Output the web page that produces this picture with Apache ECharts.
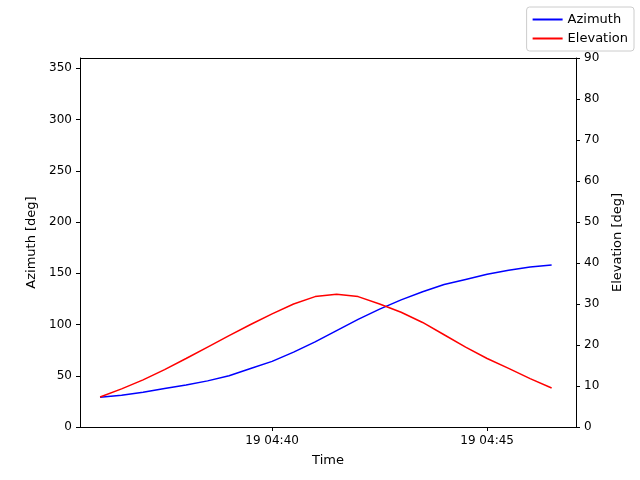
<!DOCTYPE html>
<html><head><meta charset="utf-8">
<script src="https://cdn.jsdelivr.net/npm/echarts@6/dist/echarts.min.js"></script>
<style>body{margin:0}#c{width:640px;height:480px}</style></head>
<body><div id="c"></div>
<script>
// seconds relative to 19 04:40:00
const times = [-240,-210,-180,-150,-120,-90,-60,-30,0,30,60,90,120,150,180,210,240,270,300,330,360,390];
const azimuth = [29,31,34,37.5,41,45,50,57,64,73,83,94,105,115,124,132,139,144,149,153,156,158];
const elevation = [7.3,9.3,11.5,14,16.7,19.5,22.3,25,27.6,30,31.8,32.4,31.8,30,28,25.5,22.5,19.5,16.7,14.3,11.8,9.5];
const tickVals = [0,300];
const tickLabels = {0:'19 04:40',300:'19 04:45'};
const font = 'DejaVu Sans';
const ax = {lineStyle:{color:'#000'}};
const chart = echarts.init(document.getElementById('c'));
chart.setOption({
  animation:false,
  textStyle:{fontFamily:font},
  grid:{left:80,right:64,top:58,bottom:53},
  legend:{right:6,top:7,orient:'vertical',itemWidth:30,itemHeight:2,itemGap:6,
    borderColor:'#ccc',borderWidth:1,borderRadius:3,padding:[6,6,6,6],
    textStyle:{fontFamily:font,fontSize:13,color:'#000'},
    data:[{name:'Azimuth',icon:'rect'},{name:'Elevation',icon:'rect'}]},
  xAxis:{type:'value',min:-268,max:424,name:'Time',nameLocation:'middle',nameGap:27,
    nameTextStyle:{fontSize:13,color:'#000'},
    axisLine:{onZero:false,...ax},splitLine:{show:false},
    axisTick:{customValues:tickVals,length:4,lineStyle:{color:'#000'}},
    axisLabel:{customValues:tickVals,color:'#000',fontSize:12,formatter:v=>tickLabels[v]||''}},
  yAxis:[
    {type:'value',min:0,max:360,interval:50,name:'Azimuth [deg]',nameLocation:'middle',nameGap:42,
     nameTextStyle:{fontSize:13,color:'#000'},axisLine:{show:true,onZero:false,...ax},splitLine:{show:false},
     axisTick:{show:true,length:4,lineStyle:{color:'#000'}},axisLabel:{color:'#000',fontSize:12}},
    {type:'value',min:0,max:90,interval:10,name:'Elevation [deg]',nameLocation:'middle',nameGap:35,
     nameTextStyle:{fontSize:13,color:'#000'},axisLine:{show:true,onZero:false,...ax},splitLine:{show:false},
     axisTick:{show:true,length:4,lineStyle:{color:'#000'}},axisLabel:{color:'#000',fontSize:12}}
  ],
  series:[
    {name:'Azimuth',type:'line',yAxisIndex:0,showSymbol:false,color:'#0000ff',lineStyle:{width:1.5},
     data:times.map((t,i)=>[t,azimuth[i]])},
    {name:'Elevation',type:'line',yAxisIndex:1,showSymbol:false,color:'#ff0000',lineStyle:{width:1.5},
     data:times.map((t,i)=>[t,elevation[i]])}
  ],
  graphic:[{type:'line',shape:{x1:80,y1:58.5,x2:576,y2:58.5},style:{stroke:'#000',lineWidth:1}}]
});
</script></body></html>
